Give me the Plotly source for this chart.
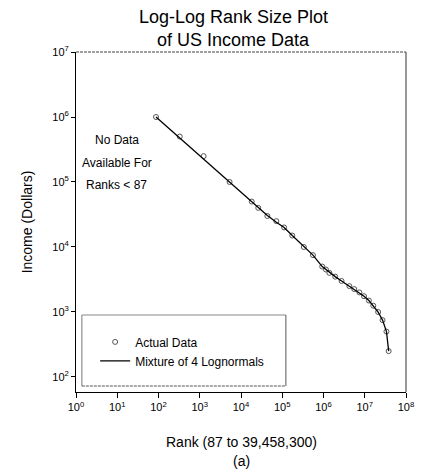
import plotly.graph_objects as go

# Data
data_rank = [87, 328, 1240, 5290, 18200, 26200, 43500, 71900, 111000, 175000, 333000, 555000,
             931000, 1146000, 1387000, 1920000, 2740000, 4240000, 5570000, 7430000, 9600000,
             12600000, 16100000, 21100000, 27000000, 33600000, 38000000]
data_income = [1000000, 500000, 250000, 100000, 50000, 40000, 30000, 25000, 20000, 15000, 10000, 7500,
               5000, 4500, 4000, 3500, 3000, 2500, 2250, 2000, 1750,
               1500, 1250, 1000, 750, 500, 250]

fit_rank = data_rank
fit_income = [1000000, 475000, 225000, 100000, 50000, 41500, 30500, 24000, 20000, 15000, 10000, 7500,
              5000, 4500, 4000, 3500, 3000, 2500, 2250, 2000, 1750,
              1500, 1250, 1000, 750, 500, 250]

x_tick_vals = [10**i for i in range(0, 9)]
x_tick_text = ["10<sup>%d</sup>" % i for i in range(0, 9)]
y_tick_vals = [10**i for i in range(2, 8)]
y_tick_text = ["10<sup>%d</sup>" % i for i in range(2, 8)]

title_lines = ["Log-Log Rank Size Plot", "of US Income Data"]
xtitle_lines = ["Rank (87 to 39,458,300)", "(a)"]
note_lines = ["No Data", "Available For", "Ranks < 87"]

FONT = "Liberation Sans, Arial, sans-serif"

fig = go.Figure()
fig.add_trace(go.Scatter(
    x=data_rank, y=data_income, mode="markers", name="Actual Data",
    marker=dict(symbol="circle-open", size=5, color="#555555", line=dict(width=1, color="#555555")),
))
fig.add_trace(go.Scatter(
    x=fit_rank, y=fit_income, mode="lines", name="Mixture of 4 Lognormals",
    line=dict(color="black", width=1.3),
))

fig.update_layout(
    width=424, height=474,
    margin=dict(l=76, r=10, t=52, b=82),
    paper_bgcolor="white", plot_bgcolor="white",
    font=dict(family=FONT, color="black", size=12),
    showlegend=True,
    legend=dict(x=0.058, y=0.19, xanchor="left", yanchor="top", bgcolor="rgba(0,0,0,0)",
                font=dict(size=12, family=FONT), tracegroupgap=0),
    xaxis=dict(type="log", range=[0, 8], tickmode="array", tickvals=x_tick_vals, ticktext=x_tick_text,
               showgrid=False, zeroline=False, showline=True, linecolor="black", linewidth=1,
               ticks="outside", ticklen=5, tickcolor="black", tickfont=dict(size=11)),
    yaxis=dict(type="log", range=[1.769, 7], tickmode="array", tickvals=y_tick_vals, ticktext=y_tick_text,
               showgrid=False, zeroline=False, showline=True, linecolor="black", linewidth=1,
               ticks="outside", ticklen=4, tickcolor="black", tickfont=dict(size=11),
               title=dict(text="Income (Dollars)", font=dict(size=14), standoff=16)),
)

# frame: right solid, top dashed
fig.add_shape(type="line", xref="paper", yref="paper", x0=1, x1=1, y0=0, y1=1,
              line=dict(color="#333333", width=1))
fig.add_shape(type="line", xref="paper", yref="paper", x0=0, x1=1, y0=1, y1=1,
              line=dict(color="#444444", width=1, dash="3px,1px"))

# legend box
lx0, lx1, ly0, ly1 = 0.0178, 0.636, 0.0176, 0.2265
fig.add_shape(type="line", xref="paper", yref="paper", x0=lx0, x1=lx1, y0=ly1, y1=ly1,
              line=dict(color="#888888", width=1))
fig.add_shape(type="line", xref="paper", yref="paper", x0=lx0, x1=lx0, y0=ly0, y1=ly1,
              line=dict(color="#777777", width=1))
fig.add_shape(type="line", xref="paper", yref="paper", x0=lx1, x1=lx1, y0=ly0, y1=ly1,
              line=dict(color="#555555", width=1))
fig.add_shape(type="line", xref="paper", yref="paper", x0=lx0, x1=lx1, y0=ly0, y1=ly0,
              line=dict(color="#555555", width=1, dash="3px,1px"))

# titles and notes as text
for txt, yy in zip(title_lines, [1.103, 1.035]):
    fig.add_annotation(text=txt, xref="paper", yref="paper", x=0.476, y=yy, xanchor="center",
                       yanchor="middle", showarrow=False, font=dict(size=18, family=FONT))
for txt, yy in zip(xtitle_lines, [-0.147, -0.203]):
    fig.add_annotation(text=txt, xref="paper", yref="paper", x=0.5, y=yy, xanchor="center",
                       yanchor="middle", showarrow=False, font=dict(size=14, family=FONT))
for txt, yy in zip(note_lines, [0.741, 0.674, 0.609]):
    fig.add_annotation(text=txt, xref="paper", yref="paper", x=0.124, y=yy, xanchor="center",
                       yanchor="middle", showarrow=False, font=dict(size=12, family=FONT))

fig.write_html("out.html")
